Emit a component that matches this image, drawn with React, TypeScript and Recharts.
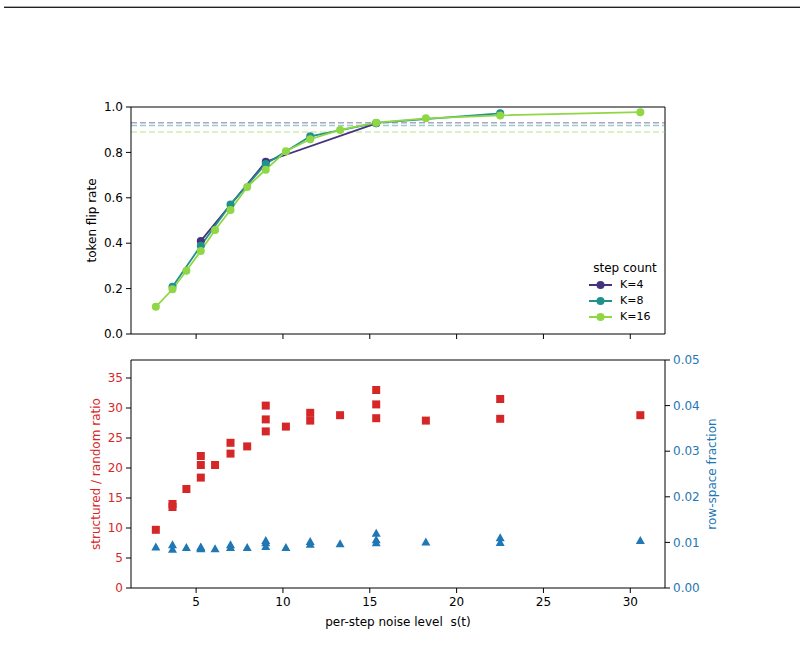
import React from "react";
import {
  LineChart,
  Line,
  ComposedChart,
  Scatter,
  XAxis,
  YAxis,
  ReferenceLine,
} from "recharts";

// per-step noise level s(t) for each step count
const k4Noise = [5.27, 9.01, 15.37];
const k8Noise = [3.64, 5.27, 6.98, 9.01, 11.57, 15.37, 22.51];
const k16Noise = [2.68, 3.64, 4.44, 5.27, 6.09, 6.98, 7.94, 9.01, 10.17, 11.57, 13.29, 15.37, 18.23, 22.51, 30.58];

// token flip rate
const k4Flip = [0.41, 0.759, 0.928];
const k8Flip = [0.208, 0.389, 0.571, 0.749, 0.871, 0.93, 0.972];
const k16Flip = [0.12, 0.197, 0.279, 0.366, 0.458, 0.546, 0.648, 0.724, 0.805, 0.858, 0.899, 0.931, 0.95, 0.963, 0.977];

// plateau level of each step count (dashed guides)
const plateaus = [0.931, 0.919, 0.89];

// structured / random ratio
const k4Ratio = [22.0, 30.4, 33.0];
const k8Ratio = [14.0, 20.5, 24.2, 28.1, 29.2, 30.6, 31.5];
const k16Ratio = [9.7, 13.5, 16.5, 18.4, 20.5, 22.4, 23.6, 26.1, 26.9, 27.9, 28.8, 28.3, 27.9, 28.2, 28.8];

// row-space fraction
const k4Row = [0.009, 0.0104, 0.012];
const k8Row = [0.0095, 0.0088, 0.0095, 0.0099, 0.0102, 0.0106, 0.011];
const k16Row = [0.009, 0.0085, 0.0089, 0.0086, 0.0086, 0.0089, 0.0089, 0.0091, 0.0089, 0.0096, 0.0097, 0.0099, 0.0101, 0.01, 0.0104];

const stepLabels = ["K=4", "K=8", "K=16"];
const stepColors = ["#46337e", "#21918c", "#8fd744"];

const xTicks = [5, 10, 15, 20, 25, 30];
const flipTicks = [0, 0.2, 0.4, 0.6, 0.8, 1.0];
const ratioTicks = [0, 5, 10, 15, 20, 25, 30, 35];
const rowTicks = [0, 0.01, 0.02, 0.03, 0.04, 0.05];

const X_MIN = 1.25;
const X_MAX = 32.0;
const RED = "#d62728";
const BLUE = "#1f77b4";

const zip = (xs: number[], ys: number[]) => xs.map((x, i) => ({ x, y: ys[i] }));

const flipSeries = [zip(k4Noise, k4Flip), zip(k8Noise, k8Flip), zip(k16Noise, k16Flip)];
const ratioPoints = [...zip(k4Noise, k4Ratio), ...zip(k8Noise, k8Ratio), ...zip(k16Noise, k16Ratio)];
const rowPoints = [...zip(k4Noise, k4Row), ...zip(k8Noise, k8Row), ...zip(k16Noise, k16Row)];

const axisStroke = { stroke: "#000" };
const FONT = 12;

// matplotlib-like "s" and "^" markers
const SquareMarker = (props: any) => {
  const { cx, cy } = props;
  return <rect x={cx - 4} y={cy - 4} width={8} height={8} fill={RED} />;
};

const TriangleMarker = (props: any) => {
  const { cx, cy } = props;
  return <polygon points={`${cx},${cy - 4.5} ${cx - 4.5},${cy + 3.5} ${cx + 4.5},${cy + 3.5}`} fill={BLUE} />;
};

// legend box sits inside the lower right corner of the flip-rate panel
function StepLegend() {
  return (
    <div style={{ position: "absolute", left: 586, top: 260, width: 78, fontSize: 12, color: "#000", lineHeight: "16px" }}>
      <div style={{ textAlign: "center", marginBottom: 1 }}>step count</div>
      {stepLabels.map((label, i) => (
        <div key={label} style={{ display: "flex", alignItems: "center", fontSize: 11 }}>
          <svg width={28} height={16}>
            <line x1={3} x2={26} y1={8} y2={8} stroke={stepColors[i]} strokeWidth={2} />
            <circle cx={14.5} cy={8} r={4} fill={stepColors[i]} />
          </svg>
          <span style={{ marginLeft: 6 }}>{label}</span>
        </div>
      ))}
    </div>
  );
}

export default function App() {
  return (
    <div
      style={{
        position: "absolute",
        left: 0,
        top: 0,
        width: 804,
        height: 650,
        overflow: "hidden",
        background: "#fff",
        fontFamily: "'DejaVu Sans', sans-serif",
      }}
    >
      <div style={{ position: "absolute", left: 4, right: 4, top: 6, height: 0, borderTop: "1px solid #aaa", borderBottom: "1px solid #222" }} />

      <div style={{ position: "absolute", left: 0, top: 0 }}>
        <LineChart width={804} height={345} margin={{ top: 107, right: 139, bottom: 1, left: 53 }}>
          <XAxis
            type="number"
            dataKey="x"
            domain={[X_MIN, X_MAX]}
            ticks={xTicks}
            allowDataOverflow
            height={10}
            axisLine={axisStroke}
            tickLine={axisStroke}
            tickSize={5}
            tickFormatter={() => ""}
          />
          <YAxis
            type="number"
            dataKey="y"
            domain={[0, 1]}
            ticks={flipTicks}
            width={78}
            axisLine={axisStroke}
            tickLine={axisStroke}
            tickSize={5}
            tickMargin={3}
            tick={{ fill: "#000", fontSize: FONT }}
            tickFormatter={(v: number) => v.toFixed(1)}
            label={{ value: "token flip rate", angle: -90, position: "center", fill: "#000", fontSize: FONT }}
          />
          <ReferenceLine y={1} stroke="#000" ifOverflow="visible" />
          <ReferenceLine x={X_MAX} stroke="#000" ifOverflow="visible" />
          {plateaus.map((p, i) => (
            <ReferenceLine
              key={stepLabels[i]}
              y={p}
              stroke={stepColors[i]}
              strokeOpacity={0.45}
              strokeWidth={1.5}
              strokeDasharray="6 3"
            />
          ))}
          {flipSeries.map((pts, i) => (
            <Line
              key={stepLabels[i]}
              data={pts}
              dataKey="y"
              name={stepLabels[i]}
              stroke={stepColors[i]}
              strokeWidth={1.8}
              dot={{ r: 4, fill: stepColors[i], stroke: "none" }}
              activeDot={false}
              isAnimationActive={false}
            />
          ))}
        </LineChart>
        <StepLegend />
      </div>

      <div style={{ position: "absolute", left: 0, top: 345 }}>
        <ComposedChart width={804} height={300} margin={{ top: 15, right: 45, bottom: 17, left: 61 }}>
          <XAxis
            type="number"
            dataKey="x"
            domain={[X_MIN, X_MAX]}
            ticks={xTicks}
            allowDataOverflow
            height={40}
            axisLine={axisStroke}
            tickLine={axisStroke}
            tickSize={5}
            tickMargin={4}
            tick={{ fill: "#000", fontSize: FONT }}
            label={{ value: "per-step noise level\u00a0 s(t)", position: "insideBottom", offset: 2, fill: "#000", fontSize: FONT }}
          />
          <YAxis
            yAxisId="left"
            type="number"
            dataKey="y"
            domain={[0, 38]}
            ticks={ratioTicks}
            width={70}
            axisLine={axisStroke}
            tickLine={axisStroke}
            tickSize={5}
            tickMargin={3}
            tick={{ fill: RED, fontSize: FONT }}
            label={{ value: "structured / random ratio", angle: -90, position: "center", fill: RED, fontSize: FONT }}
          />
          <YAxis
            yAxisId="right"
            orientation="right"
            type="number"
            dataKey="y"
            domain={[0, 0.05]}
            ticks={rowTicks}
            width={94}
            axisLine={axisStroke}
            tickLine={axisStroke}
            tickSize={5}
            tickMargin={3}
            tick={{ fill: BLUE, fontSize: FONT }}
            tickFormatter={(v: number) => v.toFixed(2)}
            label={{ value: "row-space fraction", angle: -90, position: "center", fill: BLUE, fontSize: FONT }}
          />
          <ReferenceLine yAxisId="left" y={38} stroke="#000" ifOverflow="visible" />
          <Scatter data={ratioPoints} yAxisId="left" shape={SquareMarker} isAnimationActive={false} />
          <Scatter data={rowPoints} yAxisId="right" shape={TriangleMarker} isAnimationActive={false} />
        </ComposedChart>
      </div>
    </div>
  );
}
